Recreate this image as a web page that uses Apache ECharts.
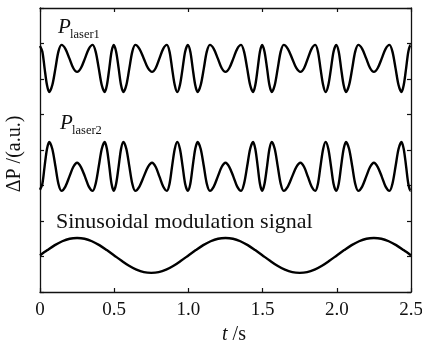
<!DOCTYPE html>
<html><head><meta charset="utf-8">
<script src="https://cdn.jsdelivr.net/npm/echarts@6/dist/echarts.min.js"></script>
<style>html,body{margin:0;padding:0;background:#fff}#c{width:422px;height:343px}</style>
</head><body><div id="c"></div>
<script>
// ---- data ----
const xTickLabels = ['0', '0.5', '1.0', '1.5', '2.0', '2.5'];

// time samples (s) shared by both laser traces
const laserTime = [
  0, 0.016, 0.031, 0.047, 0.062, 0.083, 0.104, 0.124, 0.145, 0.171, 0.198, 0.224, 0.25, 0.276, 0.303, 0.329,
  0.355, 0.375, 0.396, 0.416, 0.436, 0.451, 0.467, 0.482, 0.497, 0.513, 0.530, 0.546, 0.562, 0.582, 0.602, 0.622,
  0.642, 0.670, 0.699, 0.727, 0.755, 0.780, 0.805, 0.830, 0.855, 0.873, 0.890, 0.908, 0.925, 0.943, 0.961, 0.978,
  0.996, 1.013, 1.029, 1.046, 1.062, 1.083, 1.104, 1.124, 1.145, 1.171, 1.198, 1.224, 1.25, 1.276, 1.303, 1.329,
  1.355, 1.375, 1.396, 1.416, 1.436, 1.451, 1.467, 1.482, 1.497, 1.513, 1.530, 1.546, 1.562, 1.582, 1.602, 1.622,
  1.642, 1.670, 1.699, 1.727, 1.755, 1.780, 1.805, 1.830, 1.855, 1.873, 1.890, 1.908, 1.925, 1.943, 1.961, 1.978,
  1.996, 2.013, 2.029, 2.046, 2.062, 2.083, 2.104, 2.124, 2.145, 2.171, 2.198, 2.224, 2.25, 2.276, 2.303, 2.329,
  2.355, 2.375, 2.396, 2.416, 2.436, 2.451, 2.467, 2.482, 2.497, 2.5];

const laser1Value = [
  6.93, 6.77, 6.30, 5.83, 5.63, 5.83, 6.30, 6.77, 6.96, 6.85, 6.58, 6.31, 6.20, 6.31, 6.58, 6.85,
  6.96, 6.77, 6.30, 5.83, 5.63, 5.83, 6.30, 6.77, 6.96, 6.77, 6.30, 5.83, 5.63, 5.83, 6.30, 6.77,
  6.96, 6.85, 6.58, 6.31, 6.20, 6.31, 6.58, 6.85, 6.96, 6.77, 6.30, 5.83, 5.63, 5.83, 6.30, 6.77,
  6.96, 6.77, 6.30, 5.83, 5.63, 5.83, 6.30, 6.77, 6.96, 6.85, 6.58, 6.31, 6.20, 6.31, 6.58, 6.85,
  6.96, 6.77, 6.30, 5.83, 5.63, 5.83, 6.30, 6.77, 6.96, 6.77, 6.30, 5.83, 5.63, 5.83, 6.30, 6.77,
  6.96, 6.85, 6.58, 6.31, 6.20, 6.31, 6.58, 6.85, 6.96, 6.77, 6.30, 5.83, 5.63, 5.83, 6.30, 6.77,
  6.96, 6.77, 6.30, 5.83, 5.63, 5.83, 6.30, 6.77, 6.96, 6.85, 6.58, 6.31, 6.20, 6.31, 6.58, 6.85,
  6.96, 6.77, 6.30, 5.83, 5.63, 5.83, 6.30, 6.77, 6.96, 6.95];

const laser2Value = [
  2.88, 3.05, 3.54, 4.03, 4.23, 4.03, 3.54, 3.05, 2.85, 2.97, 3.25, 3.52, 3.64, 3.52, 3.25, 2.97,
  2.85, 3.05, 3.54, 4.03, 4.23, 4.03, 3.54, 3.05, 2.85, 3.05, 3.54, 4.03, 4.23, 4.03, 3.54, 3.05,
  2.85, 2.97, 3.25, 3.52, 3.64, 3.52, 3.25, 2.97, 2.85, 3.05, 3.54, 4.03, 4.23, 4.03, 3.54, 3.05,
  2.85, 3.05, 3.54, 4.03, 4.23, 4.03, 3.54, 3.05, 2.85, 2.97, 3.25, 3.52, 3.64, 3.52, 3.25, 2.97,
  2.85, 3.05, 3.54, 4.03, 4.23, 4.03, 3.54, 3.05, 2.85, 3.05, 3.54, 4.03, 4.23, 4.03, 3.54, 3.05,
  2.85, 2.97, 3.25, 3.52, 3.64, 3.52, 3.25, 2.97, 2.85, 3.05, 3.54, 4.03, 4.23, 4.03, 3.54, 3.05,
  2.85, 3.05, 3.54, 4.03, 4.23, 4.03, 3.54, 3.05, 2.85, 2.97, 3.25, 3.52, 3.64, 3.52, 3.25, 2.97,
  2.85, 3.05, 3.54, 4.03, 4.23, 4.03, 3.54, 3.05, 2.85, 2.86];

const modTime = [0, 0.05, 0.1, 0.15, 0.2, 0.25, 0.3, 0.35, 0.4, 0.45, 0.5, 0.55, 0.6, 0.65, 0.7, 0.75, 0.8, 0.85, 0.9, 0.95,
  1.0, 1.05, 1.1, 1.15, 1.2, 1.25, 1.3, 1.35, 1.4, 1.45, 1.5, 1.55, 1.6, 1.65, 1.7, 1.75, 1.8, 1.85, 1.9, 1.95,
  2.0, 2.05, 2.1, 2.15, 2.2, 2.25, 2.3, 2.35, 2.4, 2.45, 2.5];
const modValue = [1.03, 1.18, 1.32, 1.43, 1.50, 1.52, 1.50, 1.43, 1.32, 1.18, 1.03, 0.88, 0.74, 0.63, 0.56, 0.54, 0.56, 0.63, 0.74, 0.88,
  1.03, 1.18, 1.32, 1.43, 1.50, 1.52, 1.50, 1.43, 1.32, 1.18, 1.03, 0.88, 0.74, 0.63, 0.56, 0.54, 0.56, 0.63, 0.74, 0.88,
  1.03, 1.18, 1.32, 1.43, 1.50, 1.52, 1.50, 1.43, 1.32, 1.18, 1.03];

const seriesNames = ['P laser1', 'P laser2', 'Sinusoidal modulation signal'];

// ---- chart ----
const serif = '"Liberation Serif","Times New Roman",serif';
const pairs = (ts, vs) => ts.map((t, i) => [t, vs[i]]);
const frameLine = { show: true, onZero: false, lineStyle: { color: '#111', width: 1.3 } };
const tick = { show: true, inside: true, length: 4, lineStyle: { color: '#111', width: 1.2 } };

const chart = echarts.init(document.getElementById('c'));
const lineSeries = (name, data) => ({
  name, type: 'line', data, showSymbol: false, smooth: 0.3,
  lineStyle: { color: '#000', width: 2.4 }, silent: true
});

chart.setOption({
  animation: false,
  backgroundColor: '#fff',
  grid: { left: 40, right: 11, top: 8, bottom: 51, containLabel: false, outerBoundsMode: 'none' },
  xAxis: [{
    type: 'value', min: 0, max: 2.5, interval: 0.5, position: 'bottom',
    axisLine: frameLine, axisTick: tick, splitLine: { show: false },
    axisLabel: {
      margin: 9, fontFamily: serif, fontSize: 19, color: '#111',
      formatter: v => xTickLabels[Math.round(v / 0.5)]
    },
    name: '{i|t} /s', nameLocation: 'middle', nameGap: 23,
    nameTextStyle: {
      fontFamily: serif, fontSize: 20, color: '#111', padding: [0, 0, 0, 17],
      rich: { i: { fontFamily: serif, fontSize: 20, fontStyle: 'italic', color: '#111' } }
    }
  }, {
    type: 'value', min: 0, max: 2.5, interval: 0.5, position: 'top',
    axisLine: frameLine, axisTick: tick, axisLabel: { show: false }, splitLine: { show: false }
  }],
  yAxis: [{
    type: 'value', min: 0, max: 8, interval: 1, position: 'left',
    axisLine: frameLine, axisTick: tick, axisLabel: { show: false }, splitLine: { show: false },
    name: 'ΔP /(a.u.)', nameLocation: 'middle', nameGap: 15,
    nameTextStyle: { fontFamily: serif, fontSize: 20, color: '#111', padding: [0, 8, 0, 0] }
  }, {
    type: 'value', min: 0, max: 8, interval: 1, position: 'right',
    axisLine: frameLine, axisTick: tick, axisLabel: { show: false }, splitLine: { show: false }
  }],
  series: [
    lineSeries(seriesNames[0], pairs(laserTime, laser1Value)),
    lineSeries(seriesNames[1], pairs(laserTime, laser2Value)),
    lineSeries(seriesNames[2], pairs(modTime, modValue))
  ],
  graphic: [
    { type: 'text', x: 58, y: 27, style: { text: 'P', font: 'italic 21px ' + serif, fill: '#111', align: 'left', verticalAlign: 'middle' } },
    { type: 'text', x: 70, y: 35, style: { text: 'laser1', font: '12.5px ' + serif, fill: '#111', align: 'left', verticalAlign: 'middle' } },
    { type: 'text', x: 60, y: 123, style: { text: 'P', font: 'italic 21px ' + serif, fill: '#111', align: 'left', verticalAlign: 'middle' } },
    { type: 'text', x: 72, y: 131, style: { text: 'laser2', font: '12.5px ' + serif, fill: '#111', align: 'left', verticalAlign: 'middle' } },
    { type: 'text', x: 56, y: 222, style: { text: seriesNames[2], font: '22px ' + serif, fill: '#111', align: 'left', verticalAlign: 'middle' } }
  ]
});
</script>
</body></html>
